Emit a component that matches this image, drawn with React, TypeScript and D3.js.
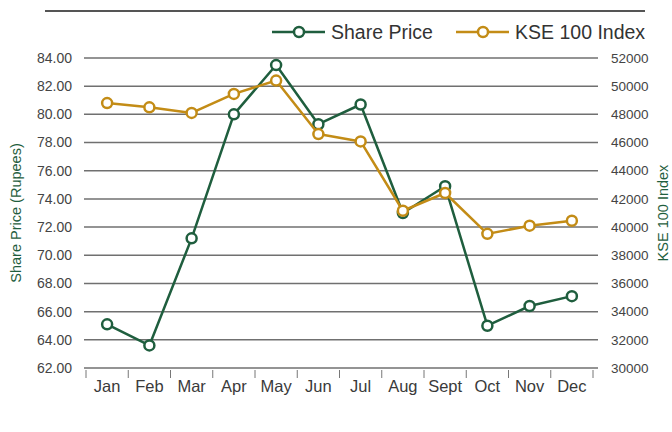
import React, { useEffect, useRef } from "react";
import * as d3 from "d3";

const months = ["Jan", "Feb", "Mar", "Apr", "May", "Jun", "Jul", "Aug", "Sept", "Oct", "Nov", "Dec"];
const sharePrice = [65.1, 63.6, 71.2, 80.0, 83.5, 79.3, 80.7, 73.0, 74.9, 65.0, 66.4, 67.1];
const kse100 = [48800, 48500, 48100, 49450, 50400, 46600, 46080, 41160, 42420, 39520, 40100, 40450];
const leftTicks = [62, 64, 66, 68, 70, 72, 74, 76, 78, 80, 82, 84];
const rightTicks = [30000, 32000, 34000, 36000, 38000, 40000, 42000, 44000, 46000, 48000, 50000, 52000];

const GREEN = "#1f5e3e";
const GOLD = "#c38c16";
const FONT = "'Liberation Sans', Arial, sans-serif";

export default function App() {
  const ref = useRef<SVGSVGElement>(null);

  useEffect(() => {
    const svg = d3.select(ref.current);
    svg.selectAll("*").remove();

    const width = 672, height = 432;
    const margin = { top: 58, left: 84, right: 74, bottom: 64 };
    const plotRight = width - margin.right;
    const plotBottom = height - margin.bottom;

    const x = d3.scaleBand().domain(months).range([86, 593]);
    const yL = d3.scaleLinear().domain([62, 84]).range([plotBottom, margin.top]);
    const yR = d3.scaleLinear().domain([30000, 52000]).range([plotBottom, margin.top]);

    // top rule
    svg.append("line")
      .attr("x1", 45).attr("x2", 645).attr("y1", 11).attr("y2", 11)
      .attr("stroke", "#555").attr("stroke-width", 2);

    // gridlines
    svg.append("g").selectAll("line").data(leftTicks).join("line")
      .attr("x1", margin.left).attr("x2", plotRight)
      .attr("y1", d => yL(d)).attr("y2", d => yL(d))
      .attr("stroke", "#707070").attr("stroke-width", 1.5);

    // left labels
    svg.append("g").selectAll("text").data(leftTicks).join("text")
      .attr("x", 72).attr("y", d => yL(d)).attr("dy", "0.35em")
      .attr("text-anchor", "end").attr("font-family", FONT).attr("font-size", 14)
      .attr("fill", "#444").text(d => d.toFixed(2));

    // right labels
    svg.append("g").selectAll("text").data(rightTicks).join("text")
      .attr("x", 611).attr("y", d => yR(d)).attr("dy", "0.35em")
      .attr("font-family", FONT).attr("font-size", 13.5)
      .attr("fill", "#444").text(d => String(d));

    // x ticks
    const edges = months.map(m => x(m)!).concat([x(months[months.length - 1])! + x.bandwidth()]);
    svg.append("g").selectAll("line").data(edges).join("line")
      .attr("x1", d => d).attr("x2", d => d)
      .attr("y1", plotBottom + 2).attr("y2", plotBottom + 10)
      .attr("stroke", "#777").attr("stroke-width", 1);

    svg.append("g").selectAll("text").data(months).join("text")
      .attr("x", d => x(d)! + x.bandwidth() / 2).attr("y", plotBottom + 24)
      .attr("text-anchor", "middle").attr("font-family", FONT).attr("font-size", 16.5)
      .attr("fill", "#3a3a3a").text(d => d);

    // axis titles
    svg.append("text")
      .attr("transform", `translate(21,${(margin.top + plotBottom) / 2}) rotate(-90)`)
      .attr("text-anchor", "middle").attr("font-family", FONT).attr("font-size", 14.5)
      .attr("fill", GREEN).text("Share Price (Rupees)");
    svg.append("text")
      .attr("transform", `translate(668,${(margin.top + plotBottom) / 2}) rotate(-90)`)
      .attr("text-anchor", "middle").attr("font-family", FONT).attr("font-size", 14.5)
      .attr("fill", GREEN).text("KSE 100 Index");

    const cx = (i: number) => x(months[i])! + x.bandwidth() / 2;

    const drawSeries = (vals: number[], y: d3.ScaleLinear<number, number>, color: string) => {
      const g = svg.append("g");
      g.append("path").datum(vals)
        .attr("fill", "none").attr("stroke", color).attr("stroke-width", 2.5)
        .attr("stroke-linejoin", "round")
        .attr("d", d3.line<number>().x((_, i) => cx(i)).y(d => y(d)));
      g.selectAll("circle").data(vals).join("circle")
        .attr("cx", (_, i) => cx(i)).attr("cy", d => y(d)).attr("r", 5)
        .attr("fill", "#fff").attr("stroke", color).attr("stroke-width", 2.5);
    };
    drawSeries(sharePrice, yL, GREEN);
    drawSeries(kse100, yR, GOLD);

    // legend
    const legend = [
      { label: "Share Price", color: GREEN, x0: 272 },
      { label: "KSE 100 Index", color: GOLD, x0: 456 },
    ];
    const lg = svg.append("g").selectAll("g").data(legend).join("g")
      .attr("transform", d => `translate(${d.x0},32)`);
    lg.append("line").attr("x1", 0).attr("x2", 53).attr("y1", 0).attr("y2", 0)
      .attr("stroke", d => d.color).attr("stroke-width", 2.5);
    lg.append("circle").attr("cx", 27).attr("cy", 0).attr("r", 5)
      .attr("fill", "#fff").attr("stroke", d => d.color).attr("stroke-width", 2.5);
    lg.append("text").attr("x", 59).attr("dy", "0.35em")
      .attr("font-family", FONT).attr("font-size", 19.5).attr("fill", "#333")
      .text(d => d.label);
  }, []);

  return (
    <svg ref={ref} width={672} height={432}
      style={{ position: "absolute", left: 0, top: 0, background: "#fff" }} />
  );
}
